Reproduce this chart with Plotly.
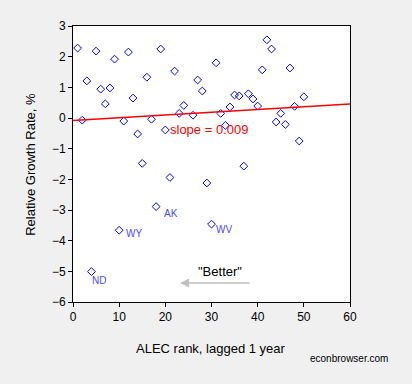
import plotly.graph_objects as go

# ALEC rank (lagged 1 year) and relative growth rate (%)
rank = [1, 2, 3, 4, 5, 6, 7, 8, 9, 10,
        11, 12, 13, 14, 15, 16, 17, 18, 19, 20,
        21, 22, 23, 24, 26, 27, 28, 29, 30,
        31, 32, 33, 34, 35, 36, 37, 38, 39, 40,
        41, 42, 43, 44, 45, 46, 47, 48, 49, 50]
growth = [2.28, -0.07, 1.21, -5.01, 2.18, 0.94, 0.46, 0.98, 1.92, -3.66,
          -0.10, 2.15, 0.65, -0.52, -1.48, 1.33, -0.04, -2.89, 2.25, -0.39,
          -1.94, 1.53, 0.15, 0.41, 0.09, 1.24, 0.88, -2.12, -3.46,
          1.80, 0.15, -0.24, 0.36, 0.75, 0.72, -1.57, 0.79, 0.62, 0.39,
          1.57, 2.55, 2.25, -0.13, 0.15, -0.21, 1.63, 0.38, -0.75, 0.69]

# regression line
slope = 0.009
intercept = -0.08
fit_x = [0, 60]

# state labels
lab_text = ["ND", "WY", "AK", "WV"]
lab_x = [5.6, 13.3, 21.2, 32.8]
lab_y = [-5.3, -3.77, -3.1, -3.65]

x_ticks = [0, 10, 20, 30, 40, 50, 60]
y_ticks = [-6, -5, -4, -3, -2, -1, 0, 1, 2, 3]

FONT = "Arial, Liberation Sans, sans-serif"

fig = go.Figure()
fig.add_trace(go.Scatter(
    x=rank, y=growth, mode="markers",
    marker=dict(symbol="diamond-open", size=6, color="#0000ff",
                line=dict(width=1, color="#0000ff")),
    showlegend=False, cliponaxis=False))
fig.add_trace(go.Scatter(
    x=fit_x, y=[intercept + slope * v for v in fit_x], mode="lines",
    line=dict(color="#ff0000", width=1.5), showlegend=False))

for t, xx, yy in zip(lab_text, lab_x, lab_y):
    fig.add_annotation(x=xx, y=yy, text=t, showarrow=False,
                       font=dict(family=FONT, size=10, color="#4a4aff"))

fig.add_annotation(x=20.6, y=-0.37, text="slope = 0.009", showarrow=False,
                   xanchor="left", font=dict(family=FONT, size=13, color="#ff0000"))
fig.add_annotation(x=31.9, y=-5.02, text='"Better"', showarrow=False,
                   font=dict(family=FONT, size=13, color="#000000"))
fig.add_annotation(x=23.2, y=-5.38, ax=38.6, ay=-5.38,
                   xref="x", yref="y", axref="x", ayref="y",
                   text="", showarrow=True, arrowhead=2, arrowsize=1.2,
                   arrowwidth=1.5, arrowcolor="#c0c0c0")

fig.add_annotation(x=0.499, y=-0.167, xref="paper", yref="paper",
                   xanchor="center", yanchor="middle",
                   text="ALEC rank, lagged 1 year", showarrow=False,
                   font=dict(family=FONT, size=13, color="#000000"))
fig.add_annotation(x=-0.156, y=0.5, xref="paper", yref="paper",
                   xanchor="center", yanchor="middle",
                   text="Relative Growth Rate, %", showarrow=False, textangle=-90,
                   font=dict(family=FONT, size=13, color="#000000"))
fig.add_annotation(x=1.143, y=-0.203, xref="paper", yref="paper",
                   xanchor="right", yanchor="middle",
                   text="econbrowser.com", showarrow=False,
                   font=dict(family=FONT, size=10, color="#000000"))

axis_common = dict(showgrid=False, zeroline=False, showline=True, linecolor="#000000",
                   linewidth=1, mirror=True, ticks="outside", ticklen=4,
                   tickcolor="#000000", tickfont=dict(family=FONT, size=12, color="#000000"))
fig.update_xaxes(range=[0, 60], tickvals=x_ticks, **axis_common)
fig.update_yaxes(range=[-6, 3], tickvals=y_ticks, **axis_common)

fig.update_layout(
    width=412, height=384,
    margin=dict(l=73, r=62, t=26, b=82),
    paper_bgcolor="#f0f0f0", plot_bgcolor="#ffffff",
    font=dict(family=FONT),
)
fig.write_html("out.html", config={"displayModeBar": False},
               post_script="document.body.style.margin='0';document.body.style.background='#f0f0f0';")
